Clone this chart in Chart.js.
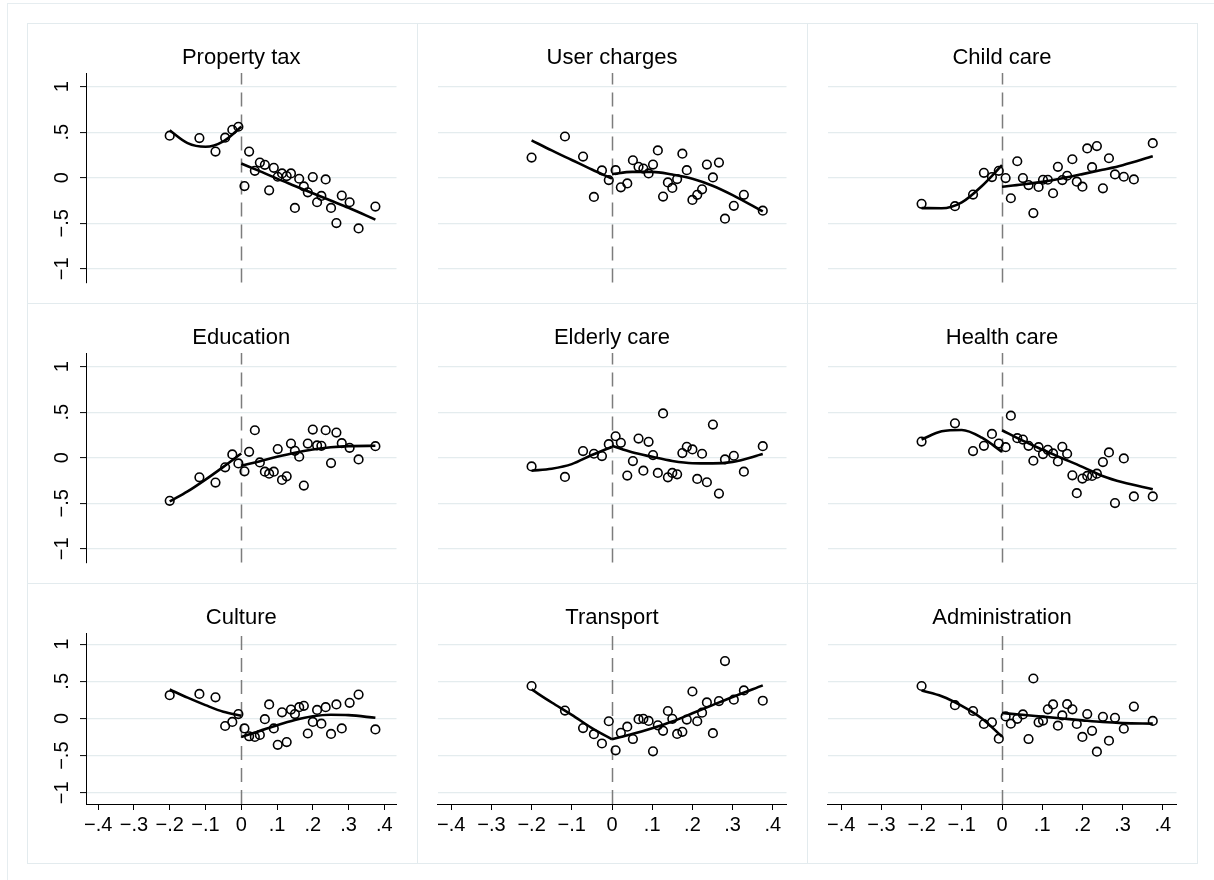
<!DOCTYPE html>
<html>
<head>
<meta charset="utf-8">
<script src="https://cdn.jsdelivr.net/npm/chart.js@4.4.1/dist/chart.umd.min.js"></script>
<style>
  html, body { margin: 0; padding: 0; background: #fff; width: 1214px; height: 880px; overflow: hidden; }
  #frame { position: absolute; left: 7px; top: 3px; width: 1240px; height: 900px; border: 1px solid #e6edf0; box-sizing: border-box; }
  .rule { position: absolute; background: #e3ebee; }
  canvas { position: absolute; }
</style>
</head>
<body>
<div id="frame"></div>
<div id="grid"></div>
<script>
// Bin midpoints (running variable), shared by every panel
const binX = [-0.2, -0.117, -0.072, -0.045, -0.025, -0.008,
  0.009, 0.022, 0.038, 0.052, 0.066, 0.078, 0.091, 0.102, 0.114, 0.127,
  0.139, 0.15, 0.162, 0.175, 0.186, 0.2, 0.212, 0.224, 0.236, 0.251,
  0.266, 0.281, 0.303, 0.328, 0.375];

// Binned means per outcome
const propertyTaxY = [0.462, 0.436, 0.287, 0.44, 0.527, 0.56,
  -0.091, 0.287, 0.076, 0.167, 0.142, -0.138, 0.109, 0.011, 0.047, 0.018,
  0.047, -0.331, -0.011, -0.095, -0.16, 0.007, -0.269, -0.2, -0.018, -0.331,
  -0.498, -0.196, -0.269, -0.556, -0.316];
const userChargesY = [0.221, 0.453, 0.232, -0.21, 0.08, -0.025,
  0.083, -0.105, -0.062, 0.192, 0.12, 0.101, 0.047, 0.145, 0.3, -0.207,
  -0.051, -0.112, -0.014, 0.264, 0.083, -0.243, -0.188, -0.127, 0.145, 0.004,
  0.167, -0.449, -0.308, -0.188, -0.362];
const childCareY = [-0.286, -0.312, -0.185, 0.054, 0.007, 0.076,
  -0.004, -0.225, 0.181, -0.004, -0.08, -0.388, -0.101, -0.022, -0.022, -0.17,
  0.12, -0.025, 0.022, 0.203, -0.043, -0.098, 0.322, 0.116, 0.348, -0.116,
  0.214, 0.036, 0.011, -0.018, 0.38];
const educationY = [-0.473, -0.215, -0.273, -0.105, 0.036, -0.062,
  -0.149, 0.065, 0.302, -0.051, -0.153, -0.175, -0.153, 0.095, -0.244, -0.204,
  0.156, 0.076, 0.011, -0.305, 0.156, 0.309, 0.135, 0.131, 0.302, -0.058,
  0.276, 0.16, 0.109, -0.018, 0.127];
const elderlyCareY = [-0.095, -0.211, 0.073, 0.044, 0.018, 0.149,
  0.236, 0.164, -0.196, -0.036, 0.211, -0.142, 0.175, 0.029, -0.167, 0.487,
  -0.215, -0.167, -0.182, 0.051, 0.12, 0.091, -0.233, 0.044, -0.269, 0.364,
  -0.393, -0.018, 0.022, -0.153, 0.127];
const healthCareY = [0.178, 0.378, 0.073, 0.131, 0.262, 0.156,
  0.116, 0.462, 0.215, 0.2, 0.131, -0.033, 0.116, 0.04, 0.087, 0.047,
  -0.04, 0.12, 0.044, -0.193, -0.389, -0.229, -0.2, -0.2, -0.175, -0.047,
  0.058, -0.498, -0.007, -0.425, -0.425];
const cultureY = [0.313, 0.331, 0.285, -0.101, -0.046, 0.06,
  -0.133, -0.239, -0.248, -0.221, -0.009, 0.189, -0.133, -0.354, 0.083, -0.317,
  0.12, 0.06, 0.152, 0.17, -0.202, -0.046, 0.115, -0.069, 0.152, -0.207,
  0.189, -0.133, 0.211, 0.322, -0.147];
const transportY = [0.437, 0.106, -0.129, -0.211, -0.336, -0.037,
  -0.428, -0.193, -0.11, -0.276, -0.009, -0.005, -0.032, -0.441, -0.092, -0.166,
  0.101, -0.005, -0.207, -0.179, -0.014, 0.363, -0.037, 0.078, 0.216, -0.198,
  0.234, 0.772, 0.253, 0.377, 0.239];
const administrationY = [0.437, 0.179, 0.101, -0.074, -0.051, -0.271,
  0.028, -0.069, -0.005, 0.055, -0.276, 0.538, -0.051, -0.028, 0.124, 0.189,
  -0.097, 0.041, 0.193, 0.124, -0.074, -0.248, 0.06, -0.166, -0.446, 0.023,
  -0.299, 0.009, -0.138, 0.161, -0.032];

// Fitted polynomial on each side of the cutoff, sampled along x
const fitLeftX = [-0.2, -0.15, -0.1, -0.05, 0];
const fitRightX = [0, 0.05, 0.1, 0.15, 0.2, 0.25, 0.3, 0.375];
const propertyTaxFitL = [0.52, 0.38, 0.34, 0.40, 0.56];
const propertyTaxFitR = [0.156, 0.075, -0.01, -0.09, -0.17, -0.25, -0.33, -0.46];
const userChargesFitL = [0.41, 0.30, 0.195, 0.09, -0.01];
const userChargesFitR = [0.04, 0.065, 0.065, 0.035, -0.01, -0.087, -0.19, -0.37];
const childCareFitL = [-0.333, -0.335, -0.27, -0.09, 0.138];
const childCareFitR = [-0.098, -0.075, -0.045, -0.005, 0.04, 0.087, 0.138, 0.236];
const educationFitL = [-0.48, -0.37, -0.24, -0.1, 0.047];
const educationFitR = [-0.087, -0.04, 0.01, 0.055, 0.09, 0.115, 0.128, 0.131];
const elderlyCareFitL = [-0.142, -0.12, -0.07, 0.03, 0.12];
const elderlyCareFitR = [0.131, 0.06, 0.01, -0.035, -0.06, -0.062, -0.045, 0.04];
const healthCareFitL = [0.2, 0.29, 0.305, 0.22, 0.065];
const healthCareFitR = [0.302, 0.19, 0.09, -0.005, -0.1, -0.2, -0.27, -0.345];
const cultureFitL = [0.39, 0.28, 0.18, 0.09, 0.037];
const cultureFitR = [-0.248, -0.17, -0.09, -0.02, 0.03, 0.05, 0.045, 0.009];
const transportFitL = [0.391, 0.215, 0.05, -0.13, -0.28];
const transportFitR = [-0.28, -0.21, -0.13, -0.04, 0.07, 0.18, 0.29, 0.446];
const administrationFitL = [0.377, 0.3, 0.17, 0.0, -0.244];
const administrationFitR = [0.074, 0.05, 0.025, 0.0, -0.025, -0.048, -0.062, -0.069];

// Axis ticks
const xTicks = [-0.4, -0.3, -0.2, -0.1, 0, 0.1, 0.2, 0.3, 0.4];
const xTickLabels = ['\u2212.4', '\u2212.3', '\u2212.2', '\u2212.1', '0', '.1', '.2', '.3', '.4'];
const yTicks = [-1, -0.5, 0, 0.5, 1];
const yTickLabels = ['\u22121', '\u2212.5', '0', '.5', '1'];
const cutoff = 0;

const panelTitles = ['Property tax', 'User charges', 'Child care',
  'Education', 'Elderly care', 'Health care',
  'Culture', 'Transport', 'Administration'];
const panelY = [propertyTaxY, userChargesY, childCareY, educationY, elderlyCareY,
  healthCareY, cultureY, transportY, administrationY];
const panelFitL = [propertyTaxFitL, userChargesFitL, childCareFitL, educationFitL, elderlyCareFitL,
  healthCareFitL, cultureFitL, transportFitL, administrationFitL];
const panelFitR = [propertyTaxFitR, userChargesFitR, childCareFitR, educationFitR, elderlyCareFitR,
  healthCareFitR, cultureFitR, transportFitR, administrationFitR];

// Layout of the 3x3 grid
const GRID_LEFT = 27, GRID_TOP = 23, CELL_W = 390, CELL_H = 280;
const FONT = '"Liberation Sans", Arial, Helvetica, sans-serif';

Chart.defaults.font.family = FONT;
Chart.defaults.color = '#000';

// cell separators
(function drawRules() {
  const g = document.getElementById('grid');
  function rule(l, t, w, h) {
    const d = document.createElement('div');
    d.className = 'rule';
    d.style.left = l + 'px'; d.style.top = t + 'px';
    d.style.width = w + 'px'; d.style.height = h + 'px';
    g.appendChild(d);
  }
  for (let i = 0; i <= 3; i++) {
    rule(GRID_LEFT + i * CELL_W, GRID_TOP, 1, 3 * CELL_H + 1);
    rule(GRID_LEFT, GRID_TOP + i * CELL_H, 3 * CELL_W + 1, 1);
  }
})();

const panelTitlePlugin = {
  id: 'panelTitle',
  afterDraw(chart, args, opts) {
    const { ctx, chartArea } = chart;
    ctx.save();
    ctx.font = '22px ' + FONT;
    ctx.fillStyle = '#000';
    ctx.textAlign = 'center';
    ctx.textBaseline = 'alphabetic';
    ctx.fillText(opts.text, (chartArea.left + chartArea.right) / 2, 40.7);
    ctx.restore();
  }
};

const cutoffLinePlugin = {
  id: 'cutoffLine',
  beforeDatasetsDraw(chart) {
    const { ctx, chartArea, scales } = chart;
    const px = Math.round(scales.x.getPixelForValue(cutoff)) + 0.5;
    ctx.save();
    ctx.strokeStyle = '#7c7c7c';
    ctx.lineWidth = 1.5;
    ctx.setLineDash([14, 8]);
    ctx.beginPath();
    ctx.moveTo(px, chartArea.bottom);
    ctx.lineTo(px, chartArea.top);
    ctx.stroke();
    ctx.restore();
  }
};

function makePanel(idx) {
  const row = Math.floor(idx / 3), col = idx % 3;
  const canvas = document.createElement('canvas');
  canvas.width = CELL_W; canvas.height = CELL_H;
  canvas.style.left = (GRID_LEFT + col * CELL_W) + 'px';
  canvas.style.top = (GRID_TOP + row * CELL_H) + 'px';
  canvas.style.width = CELL_W + 'px';
  canvas.style.height = CELL_H + 'px';
  document.body.appendChild(canvas);

  const ys = panelY[idx];
  const fitStyle = {
    type: 'line', borderColor: '#000', borderWidth: 2.6, pointRadius: 0,
    fill: false, cubicInterpolationMode: 'monotone', showLine: true
  };

  new Chart(canvas, {
    type: 'scatter',
    data: {
      datasets: [
        Object.assign({ data: fitLeftX.map((x, i) => ({ x, y: panelFitL[idx][i] })) }, fitStyle),
        Object.assign({ data: fitRightX.map((x, i) => ({ x, y: panelFitR[idx][i] })) }, fitStyle),
        {
          data: binX.map((x, i) => ({ x, y: ys[i] })),
          pointStyle: 'circle', pointRadius: 4.3, pointBorderWidth: 1.6,
          borderColor: '#000', backgroundColor: 'rgba(0,0,0,0)',
          pointBackgroundColor: 'rgba(0,0,0,0)', pointBorderColor: '#000'
        }
      ]
    },
    options: {
      responsive: false,
      devicePixelRatio: 1,
      animation: false,
      events: [],
      layout: {
        padding: { top: 50, left: col === 0 ? 0 : 20.5, right: 20.5, bottom: row === 2 ? 0 : 20.5 }
      },
      plugins: {
        legend: { display: false },
        tooltip: { enabled: false },
        panelTitle: { text: panelTitles[idx] }
      },
      scales: {
        x: {
          type: 'linear', min: -0.434, max: 0.434,
          display: row === 2,
          afterBuildTicks: s => { s.ticks = xTicks.map(v => ({ value: v })); },
          afterFit: s => { s.height = row === 2 ? 59 : 0; },
          border: { display: true, color: '#000', width: 1 },
          grid: { display: true, drawOnChartArea: false, drawTicks: true, tickLength: 6, tickColor: '#000', tickWidth: 1 },
          ticks: {
            autoSkip: false, minRotation: 0, maxRotation: 0, padding: 3,
            color: '#000', font: { size: 20 },
            callback: (v, i) => xTickLabels[i]
          }
        },
        y: {
          type: 'linear', min: -1.15, max: 1.15,
          afterBuildTicks: s => { s.ticks = yTicks.map(v => ({ value: v })); },
          afterFit: s => { s.width = col === 0 ? 59 : 0; },
          border: { display: col === 0, color: '#000', width: 1 },
          grid: { color: '#e4ecee', lineWidth: 1.2, drawTicks: col === 0, tickLength: 6, tickColor: '#000', tickWidth: 1 },
          ticks: {
            display: col === 0, autoSkip: false, minRotation: 90, maxRotation: 90,
            crossAlign: 'center', padding: 3, color: '#000', font: { size: 20 },
            callback: (v, i) => yTickLabels[i]
          }
        }
      }
    },
    plugins: [cutoffLinePlugin, panelTitlePlugin]
  });
}

for (let i = 0; i < 9; i++) makePanel(i);
</script>
</body>
</html>
